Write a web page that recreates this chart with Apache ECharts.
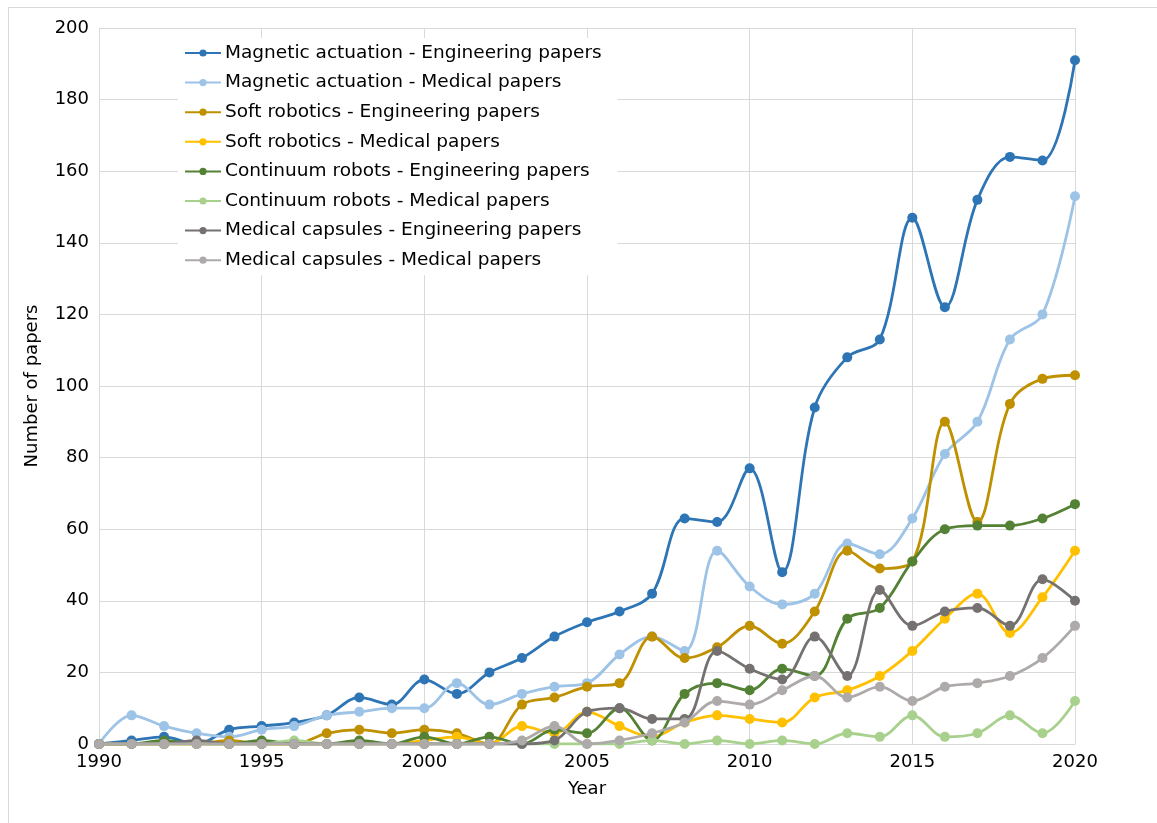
<!DOCTYPE html>
<html>
<head>
<meta charset="utf-8">
<script src="https://cdn.jsdelivr.net/npm/echarts@6/dist/echarts.min.js"></script>
<style>
  html, body { margin: 0; padding: 0; background: #fff; }
  #frame {
    position: absolute; left: 8px; top: 7px; width: 1200px; height: 900px;
    border-left: 1px solid #D9D9D9; border-top: 1px solid #D9D9D9;
  }
  #chart { position: absolute; left: 0; top: 0; width: 1157px; height: 823px; }
</style>
</head>
<body>
<div id="frame"></div>
<div id="chart"></div>
<script>
// years 1990..2020
const years = [1990, 1991, 1992, 1993, 1994, 1995, 1996, 1997, 1998, 1999,
  2000, 2001, 2002, 2003, 2004, 2005, 2006, 2007, 2008, 2009,
  2010, 2011, 2012, 2013, 2014, 2015, 2016, 2017, 2018, 2019, 2020];

const magEng = [0, 1, 2, 0, 4, 5, 6, 8, 13, 11, 18, 14, 20, 24, 30, 34, 37, 42, 63, 62, 77, 48, 94, 108, 113, 147, 122, 152, 164, 163, 191];
const magMed = [0, 8, 5, 3, 2, 4, 5, 8, 9, 10, 10, 17, 11, 14, 16, 17, 25, 30, 26, 54, 44, 39, 42, 56, 53, 63, 81, 90, 113, 120, 153];
const softEng = [0, 0, 0, 0, 1, 0, 0, 3, 4, 3, 4, 3, 0, 11, 13, 16, 17, 30, 24, 27, 33, 28, 37, 54, 49, 51, 90, 62, 95, 102, 103];
const softMed = [0, 0, 0, 0, 0, 0, 0, 0, 0, 0, 1, 2, 0, 5, 3, 9, 5, 2, 6, 8, 7, 6, 13, 15, 19, 26, 35, 42, 31, 41, 54];
const contEng = [0, 0, 1, 0, 0, 1, 0, 0, 1, 0, 2, 0, 2, 0, 4, 3, 10, 1, 14, 17, 15, 21, 19, 35, 38, 51, 60, 61, 61, 63, 67];
const contMed = [0, 0, 0, 0, 0, 0, 1, 0, 0, 0, 0, 0, 0, 0, 0, 0, 0, 1, 0, 1, 0, 1, 0, 3, 2, 8, 2, 3, 8, 3, 12];
const capsEng = [0, 0, 0, 1, 0, 0, 0, 0, 0, 0, 0, 0, 0, 0, 1, 9, 10, 7, 7, 26, 21, 18, 30, 19, 43, 33, 37, 38, 33, 46, 40];
const capsMed = [0, 0, 0, 0, 0, 0, 0, 0, 0, 0, 0, 0, 0, 1, 5, 0, 1, 3, 6, 12, 11, 15, 19, 13, 16, 12, 16, 17, 19, 24, 33];

const seriesNames = [
  "Magnetic actuation - Engineering papers",
  "Magnetic actuation - Medical papers",
  "Soft robotics - Engineering papers",
  "Soft robotics - Medical papers",
  "Continuum robots - Engineering papers",
  "Continuum robots - Medical papers",
  "Medical capsules - Engineering papers",
  "Medical capsules - Medical papers"
];
const seriesData = [magEng, magMed, softEng, softMed, contEng, contMed, capsEng, capsMed];
const colors = ["#2E75B6", "#9DC3E6", "#BF9000", "#FFC000", "#548235", "#A9D18E", "#767171", "#AEAAAA"];

const font = "DejaVu Sans";
const chart = echarts.init(document.getElementById("chart"));

const option = {
  animation: false,
  textStyle: { fontFamily: font },
  grid: { left: 99, right: 82, top: 28, bottom: 79 },
  legend: {
    orient: "vertical",
    left: 178,
    top: 38,
    padding: [5, 16, 5, 6],
    backgroundColor: "#fff",
    itemWidth: 36,
    itemHeight: 9,
    itemGap: 9.6,
    textStyle: { fontFamily: font, fontSize: 18.5, color: "#000", lineHeight: 20, padding: [0, 0, 0, -1] },
    data: seriesNames
  },
  xAxis: {
    type: "value",
    min: 1990,
    max: 2020,
    interval: 5,
    name: "Year",
    nameLocation: "middle",
    nameGap: 36,
    nameTextStyle: { fontFamily: font, fontSize: 18, color: "#000" },
    axisLabel: { fontFamily: font, fontSize: 18, color: "#000", margin: 9, formatter: function (v) { return String(v); } },
    axisTick: { show: false },
    axisLine: { lineStyle: { color: "#D9D9D9" } },
    splitLine: { show: true, lineStyle: { color: "#D9D9D9", width: 1 } }
  },
  yAxis: {
    type: "value",
    min: 0,
    max: 200,
    interval: 20,
    name: "Number of papers",
    nameLocation: "middle",
    nameGap: 58,
    nameTextStyle: { fontFamily: font, fontSize: 18, color: "#000" },
    axisLabel: { fontFamily: font, fontSize: 18, color: "#000", margin: 10 },
    axisTick: { show: false },
    axisLine: { show: true, lineStyle: { color: "#D9D9D9" } },
    splitLine: { lineStyle: { color: "#D9D9D9", width: 1 } }
  },
  series: seriesNames.map(function (name, i) {
    return {
      name: name,
      type: "line",
      data: years.map(function (y, k) { return [y, seriesData[i][k]]; }),
      smooth: 0.35,
      symbol: "circle",
      symbolSize: 10,
      itemStyle: { color: colors[i] },
      lineStyle: { color: colors[i], width: 2.8 },
      z: 2 + i
    };
  })
};

chart.setOption(option);
</script>
</body>
</html>
